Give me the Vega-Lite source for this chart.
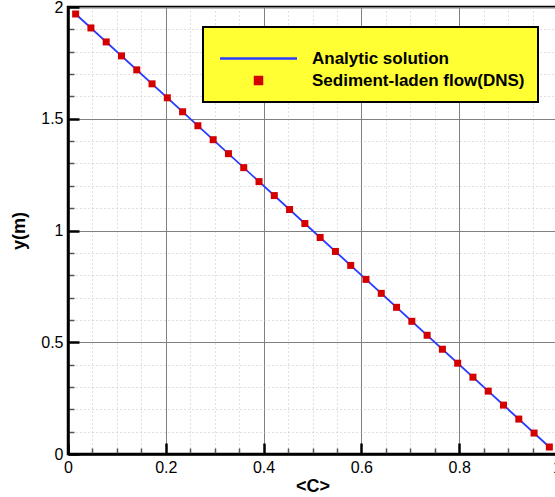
{
  "$schema": "https://vega.github.io/schema/vega-lite/v6.json",
  "width": 489,
  "height": 447,
  "autosize": {"type": "none"},
  "padding": {"left": 68, "top": 7, "right": 0, "bottom": 43},
  "datasets": {
    "line": [
      {"C": 0.015625, "y": 1.96875, "series": "Analytic solution"},
      {"C": 0.5, "y": 1.0, "series": "Analytic solution"},
      {"C": 0.984375, "y": 0.03125, "series": "Analytic solution"}
    ],
    "pts": [
      {"C": 0.984375, "y": 0.03125, "series": "Sediment-laden flow(DNS)"},
      {"C": 0.953125, "y": 0.09375, "series": "Sediment-laden flow(DNS)"},
      {"C": 0.921875, "y": 0.15625, "series": "Sediment-laden flow(DNS)"},
      {"C": 0.890625, "y": 0.21875, "series": "Sediment-laden flow(DNS)"},
      {"C": 0.859375, "y": 0.28125, "series": "Sediment-laden flow(DNS)"},
      {"C": 0.828125, "y": 0.34375, "series": "Sediment-laden flow(DNS)"},
      {"C": 0.796875, "y": 0.40625, "series": "Sediment-laden flow(DNS)"},
      {"C": 0.765625, "y": 0.46875, "series": "Sediment-laden flow(DNS)"},
      {"C": 0.734375, "y": 0.53125, "series": "Sediment-laden flow(DNS)"},
      {"C": 0.703125, "y": 0.59375, "series": "Sediment-laden flow(DNS)"},
      {"C": 0.671875, "y": 0.65625, "series": "Sediment-laden flow(DNS)"},
      {"C": 0.640625, "y": 0.71875, "series": "Sediment-laden flow(DNS)"},
      {"C": 0.609375, "y": 0.78125, "series": "Sediment-laden flow(DNS)"},
      {"C": 0.578125, "y": 0.84375, "series": "Sediment-laden flow(DNS)"},
      {"C": 0.546875, "y": 0.90625, "series": "Sediment-laden flow(DNS)"},
      {"C": 0.515625, "y": 0.96875, "series": "Sediment-laden flow(DNS)"},
      {"C": 0.484375, "y": 1.03125, "series": "Sediment-laden flow(DNS)"},
      {"C": 0.453125, "y": 1.09375, "series": "Sediment-laden flow(DNS)"},
      {"C": 0.421875, "y": 1.15625, "series": "Sediment-laden flow(DNS)"},
      {"C": 0.390625, "y": 1.21875, "series": "Sediment-laden flow(DNS)"},
      {"C": 0.359375, "y": 1.28125, "series": "Sediment-laden flow(DNS)"},
      {"C": 0.328125, "y": 1.34375, "series": "Sediment-laden flow(DNS)"},
      {"C": 0.296875, "y": 1.40625, "series": "Sediment-laden flow(DNS)"},
      {"C": 0.265625, "y": 1.46875, "series": "Sediment-laden flow(DNS)"},
      {"C": 0.234375, "y": 1.53125, "series": "Sediment-laden flow(DNS)"},
      {"C": 0.203125, "y": 1.59375, "series": "Sediment-laden flow(DNS)"},
      {"C": 0.171875, "y": 1.65625, "series": "Sediment-laden flow(DNS)"},
      {"C": 0.140625, "y": 1.71875, "series": "Sediment-laden flow(DNS)"},
      {"C": 0.109375, "y": 1.78125, "series": "Sediment-laden flow(DNS)"},
      {"C": 0.078125, "y": 1.84375, "series": "Sediment-laden flow(DNS)"},
      {"C": 0.046875, "y": 1.90625, "series": "Sediment-laden flow(DNS)"},
      {"C": 0.015625, "y": 1.96875, "series": "Sediment-laden flow(DNS)"}
    ]
  },
  "config": {
    "font": "Liberation Sans",
    "view": {"stroke": "black", "strokeWidth": 2.5},
    "legend": {
      "fillColor": "#ffff33",
      "strokeColor": "black",
      "strokeWidth": 2,
      "padding": 13,
      "labelFont": "Liberation Sans",
      "labelFontSize": 17,
      "labelFontWeight": "bold",
      "labelColor": "black",
      "labelOffset": 45,
      "symbolOffset": 34,
      "labelLimit": 400,
      "rowPadding": 4,
      "titleFontSize": 10,
      "titlePadding": 0
    }
  },
  "layer": [
    {
      "data": {"name": "line"},
      "mark": {"type": "line", "opacity": 0},
      "encoding": {
        "x": {
          "field": "C", "type": "quantitative",
          "scale": {"domain": [0, 1], "nice": false, "zero": false},
          "axis": {
            "orient": "bottom", "title": null, "labels": false, "domain": false,
            "values": [0.05, 0.1, 0.15, 0.25, 0.3, 0.35, 0.45, 0.5, 0.55, 0.65, 0.7, 0.75, 0.85, 0.9, 0.95],
            "tickSize": -6, "tickWidth": 1.5, "tickColor": "#555555",
            "grid": true, "gridColor": "#c0c0c0", "gridDash": [1, 3], "gridWidth": 1
          }
        },
        "y": {
          "field": "y", "type": "quantitative",
          "scale": {"domain": [0, 2], "nice": false, "zero": false},
          "axis": {
            "orient": "left", "title": null, "labels": false, "domain": false,
            "values": [0.1, 0.2, 0.3, 0.4, 0.6, 0.7, 0.8, 0.9, 1.1, 1.2, 1.3, 1.4, 1.6, 1.7, 1.8, 1.9],
            "tickSize": -6, "tickWidth": 1.5, "tickColor": "#555555",
            "grid": true, "gridColor": "#c0c0c0", "gridDash": [1, 3], "gridWidth": 1
          }
        }
      }
    },
    {
      "data": {"name": "line"},
      "mark": {"type": "line", "strokeWidth": 1.8},
      "encoding": {
        "x": {
          "field": "C", "type": "quantitative",
          "axis": {
            "orient": "bottom", "title": "<C>",
            "values": [0, 0.2, 0.4, 0.6, 0.8, 1], "format": "~g",
            "tickSize": -11, "tickWidth": 2.5, "tickColor": "black",
            "domainColor": "black", "domainWidth": 2.5,
            "grid": true, "gridColor": "#808080", "gridWidth": 1,
            "labelFontSize": 16, "labelColor": "black", "labelPadding": 16, "labelFlush": false,
            "titleFontSize": 18, "titleFontWeight": "bold", "titleColor": "black", "titlePadding": 2
          }
        },
        "y": {
          "field": "y", "type": "quantitative",
          "axis": {
            "orient": "left", "title": "y(m)",
            "values": [0, 0.5, 1, 1.5, 2], "format": "~g",
            "tickSize": -11, "tickWidth": 2.5, "tickColor": "black",
            "domainColor": "black", "domainWidth": 2.5,
            "grid": true, "gridColor": "#808080", "gridWidth": 1,
            "labelFontSize": 16, "labelColor": "black", "labelPadding": 16, "labelFlush": false,
            "titleFontSize": 18, "titleFontWeight": "bold", "titleColor": "black", "titlePadding": 12
          }
        },
        "color": {
          "field": "series", "type": "nominal",
          "scale": {"domain": ["Analytic solution", "Sediment-laden flow(DNS)"], "range": ["#2a3cff", "#d40000"]},
          "legend": {
            "title": " ", "orient": "none", "legendX": 135, "legendY": 20,
            "encode": {
              "symbols": {
                "update": {
                  "shape": {"signal": "datum.value === 'Analytic solution' ? 'stroke' : 'square'"},
                  "size": {"signal": "datum.value === 'Analytic solution' ? 5929 : 49"},
                  "fill": {"signal": "datum.value === 'Analytic solution' ? 'transparent' : '#d40000'"},
                  "stroke": {"signal": "datum.value === 'Analytic solution' ? '#2a3cff' : 'transparent'"},
                  "strokeWidth": {"value": 2.5},
                  "opacity": {"value": 1}
                }
              }
            }
          }
        }
      }
    },
    {
      "data": {"name": "pts"},
      "mark": {"type": "point", "shape": "square", "filled": true, "size": 49, "opacity": 1},
      "encoding": {
        "x": {"field": "C", "type": "quantitative", "axis": null},
        "y": {"field": "y", "type": "quantitative", "axis": null},
        "color": {"field": "series", "type": "nominal"}
      }
    }
  ],
  "resolve": {"axis": {"x": "independent", "y": "independent"}}
}
